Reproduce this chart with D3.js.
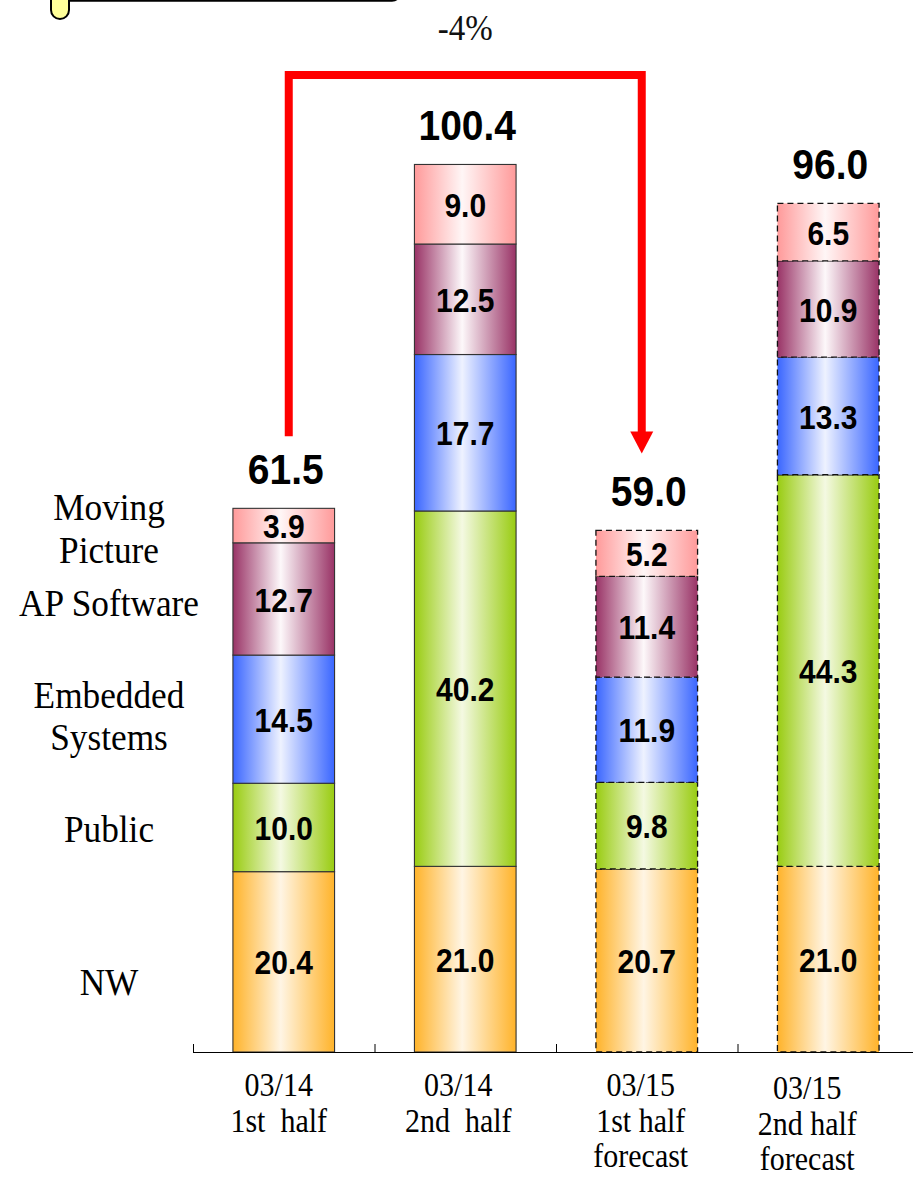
<!DOCTYPE html>
<html>
<head>
<meta charset="utf-8">
<script src="https://cdn.jsdelivr.net/npm/d3@7"></script>
<style>
  html, body { margin: 0; padding: 0; background: #fff; }
  svg { display: block; }
</style>
</head>
<body>
<svg id="chart" width="913" height="1178"></svg>
<script>
// Half-year periods (two text lines each, last two are forecasts)
const periods = ["03/14 1st half", "03/14 2nd half", "03/15 1st half forecast", "03/15 2nd half forecast"];
const periodLines = [["03/14", "1st  half"], ["03/14", "2nd  half"], ["03/15", "1st half", "forecast"], ["03/15", "2nd half", "forecast"]];
const isForecast = [false, false, true, true];

// Segments, bottom to top
const segments = ["NW", "Public", "Embedded Systems", "AP Software", "Moving Picture"];
const nw        = [20.4, 21.0, 20.7, 21.0];
const publicSeg = [10.0, 40.2, 9.8, 44.3];
const embedded  = [14.5, 17.7, 11.9, 13.3];
const apSoft    = [12.7, 12.5, 11.4, 10.9];
const moving    = [3.9, 9.0, 5.2, 6.5];
const totals    = [61.5, 100.4, 59.0, 96.0];
const changeLabel = "-4%";

const seriesValues = [nw, publicSeg, embedded, apSoft, moving];

// Per-segment gradient colours: saturated edge, light centre
const edgeColors  = ["#ffb32a", "#99cc11", "#3a66ff", "#993366", "#ff9a9a"];
const lightColors = ["#fff5e4", "#f4f9e2", "#eef2ff", "#fdf8fa", "#fff6f6"];

const svg = d3.select("#chart");

const x = d3.scaleBand().domain(periods).range([193, 919]).paddingInner(0.44).paddingOuter(0.22);
const y = d3.scaleLinear().domain([0, 100]).range([1052, 168]);

// Horizontal gradients for each segment colour
const defs = svg.append("defs");
segments.forEach((s, i) => {
  const g = defs.append("linearGradient").attr("id", "grad" + i)
    .attr("x1", "0%").attr("x2", "100%").attr("y1", "0%").attr("y2", "0%");
  g.append("stop").attr("offset", "0%").attr("stop-color", edgeColors[i]);
  g.append("stop").attr("offset", "47%").attr("stop-color", lightColors[i]);
  g.append("stop").attr("offset", "100%").attr("stop-color", edgeColors[i]);
});

// Stack the segment values
const rows = periods.map((p, j) => {
  const r = { period: p };
  segments.forEach((s, i) => { r[s] = seriesValues[i][j]; });
  return r;
});
const stacked = d3.stack().keys(segments)(rows);

const barsG = svg.append("g");
stacked.forEach((layer, i) => {
  const g = barsG.append("g");
  g.selectAll("rect").data(layer).join("rect")
    .attr("x", d => x(d.data.period))
    .attr("y", d => y(d[1]))
    .attr("width", x.bandwidth())
    .attr("height", d => y(d[0]) - y(d[1]))
    .attr("fill", `url(#grad${i})`)
    .attr("stroke", (d, j) => isForecast[j] ? "#111" : "#333")
    .attr("stroke-width", (d, j) => isForecast[j] ? 1.3 : 1.1)
    .attr("stroke-dasharray", (d, j) => isForecast[j] ? "6,4" : null);
});

// Segment value labels
const sansBold = "'Liberation Sans', Arial, sans-serif";
stacked.forEach((layer) => {
  barsG.append("g").selectAll("text").data(layer).join("text")
    .attr("transform", d => `translate(${x(d.data.period) + x.bandwidth() / 2},${(y(d[0]) + y(d[1])) / 2 + 1}) scale(1,1.12)`)
    .attr("text-anchor", "middle")
    .attr("dominant-baseline", "central")
    .attr("font-family", sansBold)
    .attr("font-weight", "bold")
    .attr("font-size", 30)
    .attr("fill", "#000")
    .text(d => (d[1] - d[0]).toFixed(1));
});

// Totals above each bar
svg.append("g").selectAll("text").data(totals).join("text")
  .attr("transform", (d, j) => `translate(${x(periods[j]) + x.bandwidth() / 2 + 2},${y(d) - 24}) scale(1,1.08)`)
  .attr("text-anchor", "middle")
  .attr("font-family", sansBold)
  .attr("font-weight", "bold")
  .attr("font-size", 39)
  .attr("fill", "#000")
  .text(d => d.toFixed(1));

// Category axis: baseline with ticks at period boundaries
const axisG = svg.append("g");
const gap = (x.step() - x.bandwidth()) / 2;
const bounds = periods.map(p => x(p) - gap);
axisG.append("line")
  .attr("x1", bounds[0]).attr("x2", 913)
  .attr("y1", y(0) + 0.5).attr("y2", y(0) + 0.5)
  .attr("stroke", "#000").attr("stroke-width", 1.2);
axisG.selectAll("line.tick").data(bounds).join("line").attr("class", "tick")
  .attr("x1", d => d + 0.5).attr("x2", d => d + 0.5)
  .attr("y1", y(0) - 8).attr("y2", y(0))
  .attr("stroke", "#000").attr("stroke-width", 1);

// Category labels (the last column sits a little lower and to the left)
const serif = "'Liberation Serif', 'Times New Roman', serif";
const labelShiftX = [-5, -7, -6, -21];
const labelShiftY = [0, 0, 0, 3];
const lineGap = 35.5;
periods.forEach((p, j) => {
  const cx = x(p) + x.bandwidth() / 2 + labelShiftX[j];
  periodLines[j].forEach((line, k) => {
    axisG.append("text")
      .attr("transform", `translate(${cx},${1096 + labelShiftY[j] + k * lineGap}) scale(1,1.12)`)
      .attr("text-anchor", "middle")
      .attr("font-family", serif)
      .attr("font-size", 30)
      .attr("fill", "#000")
      .style("white-space", "pre")
      .text(line);
  });
});

// Segment names on the left
const legendLines = [
  { text: "Moving", yc: 507 }, { text: "Picture", yc: 550 },
  { text: "AP Software", yc: 603 },
  { text: "Embedded", yc: 695 }, { text: "Systems", yc: 737 },
  { text: "Public", yc: 829 },
  { text: "NW", yc: 982 }
];
svg.append("g").selectAll("text").data(legendLines).join("text")
  .attr("transform", d => `translate(109,${d.yc}) scale(0.98,1.05)`)
  .attr("text-anchor", "middle")
  .attr("dominant-baseline", "central")
  .attr("font-family", serif)
  .attr("font-size", 36)
  .attr("fill", "#000")
  .text(d => d.text);

// Change arrow from the first half of 03/14 to the first half of 03/15
const ax1 = x(periods[0]) + x.bandwidth() / 2 + 5;
const ax2 = x(periods[2]) + x.bandwidth() / 2 - 5;
const topY = 75;
svg.append("path")
  .attr("d", `M${ax1},${y(totals[0]) - 72} V${topY} H${ax2} V${y(totals[2]) - 98}`)
  .attr("fill", "none")
  .attr("stroke", "#ff0000")
  .attr("stroke-width", 8)
  .attr("stroke-linejoin", "miter");
const tipY = y(totals[2]) - 77;
svg.append("path")
  .attr("d", `M${ax2 - 11.5},${tipY - 22} L${ax2 + 11.5},${tipY - 22} L${ax2},${tipY} Z`)
  .attr("fill", "#ff0000");

svg.append("text")
  .attr("transform", `translate(${(ax1 + ax2) / 2},28) scale(1,1.1)`)
  .attr("text-anchor", "middle")
  .attr("dominant-baseline", "central")
  .attr("font-family", serif)
  .attr("font-size", 33)
  .attr("fill", "#111")
  .text(changeLabel);

// Scroll-shaped note box, mostly above the visible area
const note = svg.append("g");
note.append("path")
  .attr("d", "M51,-12 V10 A9,9 0 0 0 69,10 V-12 Z")
  .attr("fill", "#ffff99").attr("stroke", "#000").attr("stroke-width", 2);
note.append("path")
  .attr("d", "M69,0.5 H392 Q398,0.5 399,-6")
  .attr("fill", "none").attr("stroke", "#000").attr("stroke-width", 2.5);
</script>
</body>
</html>
